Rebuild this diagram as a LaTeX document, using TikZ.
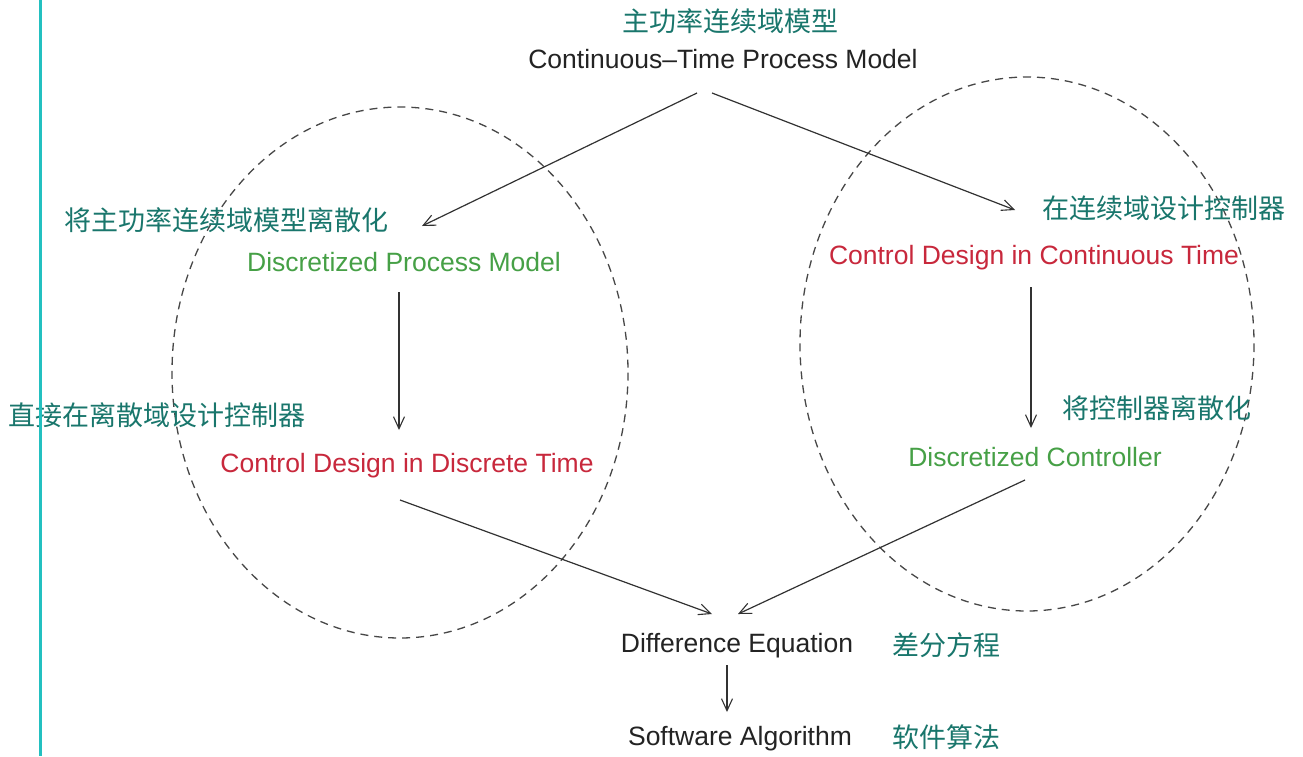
\documentclass[tikz,border=0pt]{standalone}
\usepackage{fontspec}
\setmainfont{Liberation Sans}
\newfontfamily\cjk{Noto Sans CJK SC}
\usetikzlibrary{arrows.meta,calc}
\definecolor{cnteal}{RGB}{25,118,108}
\definecolor{engreen}{RGB}{70,160,70}
\definecolor{enred}{RGB}{200,40,60}
\definecolor{entext}{RGB}{35,35,35}
\definecolor{linegray}{RGB}{50,50,50}
\definecolor{barcyan}{RGB}{35,192,192}
\tikzset{
  en/.style={inner sep=0pt, anchor=base, font=\fontsize{26.5}{30}\selectfont},
  cn/.style={inner sep=0pt, anchor=center, text=cnteal, font=\cjk\fontsize{27}{30}\selectfont},
  arr/.style={draw=linegray, line width=1.2pt, -{Straight Barb[length=12pt,width=11pt,line width=1.1pt]}},
  oval/.style={draw=linegray!90, line width=1.3pt, dash pattern=on 8pt off 6pt}
}
\begin{document}
\begin{tikzpicture}[x=1pt,y=-1pt]
\useasboundingbox (0,0) rectangle (1303,756);
\fill[white] (0,0) rectangle (1303,756);
% ellipses
\draw[oval] (400,372.5) ellipse [x radius=228, y radius=265.5];
\draw[oval] (1027,344) ellipse [x radius=227, y radius=267];
% texts
\node[cn] (cntop) at (730,21) {主功率连续域模型};
\node[en, text=entext] (ctpm) at (723,68) {Continuous–Time Process Model};
\node[cn] (cnl1) at (226,220) {将主功率连续域模型离散化};
\node[en, text=engreen] (dpm) at (404,271) {Discretized Process Model};
\node[cn] (cnl2) at (157,415) {直接在离散域设计控制器};
\node[en, text=enred] (cdd) at (407,472) {Control Design in Discrete Time};
\node[cn] (cnr1) at (1164,208) {在连续域设计控制器};
\node[en, text=enred] (cdc) at (1034,264) {Control Design in Continuous Time};
\node[cn] (cnr2) at (1157,408) {将控制器离散化};
\node[en, text=engreen] (dc) at (1035,466) {Discretized Controller};
\node[en, text=entext] (de) at (737,652) {Difference Equation};
\node[cn] (cnde) at (946,645) {差分方程};
\node[en, text=entext] (sa) at (740,745) {Software Algorithm};
\node[cn] (cnsa) at (946,737) {软件算法};
% arrows
\draw[arr] ($(ctpm.base)+(-26,25)$) -- ($(dpm.base)+(18,-45)$);
\draw[arr] ($(ctpm.base)+(-11,25)$) -- ($(cdc.base)+(-19,-54)$);
\draw[arr] ($(dpm.base)+(-5,21)$) -- ($(cdd.base)+(-8,-42)$);
\draw[arr] ($(cdc.base)+(-3,23)$) -- ($(dc.base)+(-4,-38)$);
\draw[arr] ($(cdd.base)+(-7,28)$) -- ($(de.base)+(-25,-38)$);
\draw[arr] ($(dc.base)+(-10,14)$) -- ($(de.base)+(1,-38)$);
\draw[arr] ($(de.base)+(-10,13)$) -- ($(sa.base)+(-13,-33)$);
% cyan bar
\draw[barcyan, line width=3pt] (40,0) -- (40,756);
\end{tikzpicture}
\end{document}
